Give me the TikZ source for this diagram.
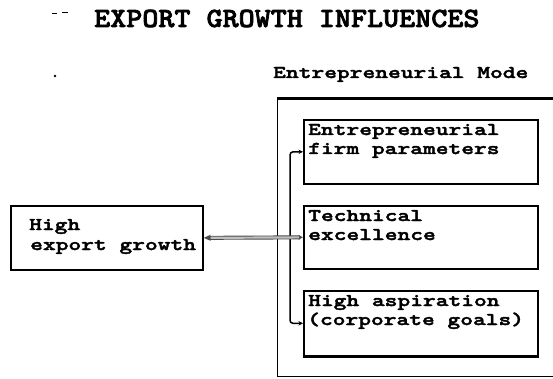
\documentclass[tikz,border=0pt]{standalone}
\usepackage{fontspec}
\newfontfamily\bodyfont[Extension=.otf,FakeStretch=1.35,FakeBold=2.2]{lmmonolt10-bold}
\newfontfamily\titlefont[Extension=.otf,FakeStretch=1.1,FakeBold=2.6]{lmmonolt10-bold}
\usetikzlibrary{arrows.meta}
\tikzset{
  smalltip/.tip={Stealth[length=4.5pt,width=4.5pt]},
  bigtip/.tip={Stealth[length=7pt,width=6pt]}}
\begin{document}
\begin{tikzpicture}[x=1pt,y=-1pt,
  factorbox/.style={draw, line width=1.7pt, minimum width=234pt, anchor=north west, inner sep=0pt},
  lbl/.style={anchor=base west, inner sep=0pt, font=\bodyfont\fontsize{18}{19}\selectfont}]
\useasboundingbox (0,0) rectangle (553,379);

% heading and stray marks
\node[anchor=base west, inner sep=0pt, font=\titlefont\fontsize{27.8}{30}\selectfont] (title) at (94,27) {EXPORT GROWTH INFLUENCES};
\draw[line width=0.9pt] (52,13) -- (57,13);
\draw[line width=0.9pt] (62,12) -- (68,12);
\fill (55,76) circle (1.3pt);

% entrepreneurial mode frame
\node[lbl] (modetitle) at (273,78) {Entrepreneurial Mode};
\node[draw, line width=1.4pt, minimum width=290pt, minimum height=277pt, anchor=north west, inner sep=0pt] (mode) at (277,99) {};
\draw[line width=3pt] (mode.north west) -- (mode.north east);

% factor boxes
\node[factorbox, minimum height=64pt] (fp) at (303,119) {};
\node[factorbox, minimum height=63pt] (te) at (303,205) {};
\node[factorbox, minimum height=65pt] (ha) at (303,290) {};
\draw[line width=3pt] (ha.south west) -- (ha.south east);

\node[lbl] (fp1) at ([shift={(5,16)}]fp.north west) {Entrepreneurial};
\node[lbl] (fp2) at ([shift={(5,35)}]fp.north west) {firm parameters};
\node[lbl] (te1) at ([shift={(5,16)}]te.north west) {Technical};
\node[lbl] (te2) at ([shift={(5,35)}]te.north west) {excellence};
\node[lbl] (ha1) at ([shift={(5,16)}]ha.north west) {High aspiration};
\node[lbl] (ha2) at ([shift={(4,35)}]ha.north west) {(corporate goals)};

% outcome box
\node[draw, line width=1.7pt, minimum width=192pt, minimum height=64pt, anchor=north west, inner sep=0pt] (hx) at (10,205) {};
\node[lbl] (hx1) at ([shift={(19,25)}]hx.north west) {High};
\node[lbl] (hx2) at ([shift={(20,45)}]hx.north west) {export growth};

% bracket joining the three factors
\draw[line width=1.5pt, rounded corners=3pt, smalltip-smalltip] (fp.west) -- ++(-13,0) |- (ha.west);

% link to the outcome
\draw[black!70, line width=4pt, smalltip-bigtip] (te.west) -- (hx.east);
\draw[gray!50, line width=2.2pt, shorten >=7pt, shorten <=4pt] (te.west) -- (hx.east);
\end{tikzpicture}
\end{document}
